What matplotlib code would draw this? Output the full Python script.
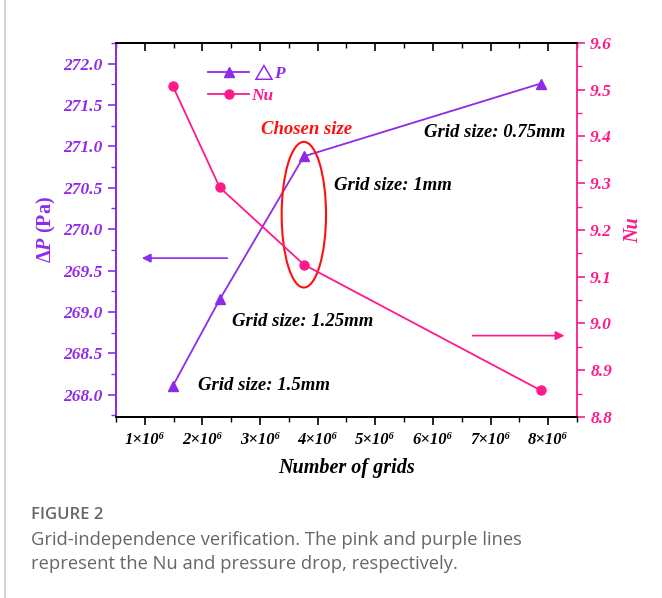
"""
Grid-independence check: pressure drop and Nusselt number vs. number of grids
"""
import matplotlib
matplotlib.use("Agg")
import matplotlib.pyplot as plt
from matplotlib import ticker
from matplotlib.lines import Line2D
from matplotlib.patches import Ellipse

plt.rcParams['font.family'] = ['Liberation Serif', 'DejaVu Serif']
plt.rcParams['mathtext.fontset'] = 'custom'
plt.rcParams['mathtext.rm'] = 'Liberation Serif:italic:bold'
plt.rcParams['mathtext.it'] = 'Liberation Serif:italic:bold'
plt.rcParams['mathtext.bf'] = 'Liberation Serif:bold'

PURPLE = '#8E2AEA'
PINK = '#FF1A8C'
RED = '#FF1010'
CAPTION = '#666666'

# data
n_grids = [1.49e6, 2.30e6, 3.76e6, 7.87e6]
delta_p = [268.11, 269.15, 270.88, 271.76]
nu = [9.507, 9.291, 9.126, 8.857]
grid_labels = ['Grid size: 1.5mm', 'Grid size: 1.25mm', 'Grid size: 1mm', 'Grid size: 0.75mm']
x_ticks = [1e6, 2e6, 3e6, 4e6, 5e6, 6e6, 7e6, 8e6]
x_labels = ['%d×10⁶' % round(v / 1e6) for v in x_ticks]
dp_ticks = [268.0, 268.5, 269.0, 269.5, 270.0, 270.5, 271.0, 271.5, 272.0]
nu_ticks = [8.8, 8.9, 9.0, 9.1, 9.2, 9.3, 9.4, 9.5, 9.6]

bi = dict(fontweight='bold', fontstyle='italic')

fig = plt.figure(figsize=(6.62, 5.98), dpi=100)
ax = fig.add_axes([0.1752, 0.3027, 0.6964, 0.6254])
ax2 = ax.twinx()

l1, = ax.plot(n_grids, delta_p, '-^', color=PURPLE, lw=1.3, ms=7.5, zorder=3)
l2, = ax2.plot(n_grids, nu, '-o', color=PINK, lw=1.3, ms=6.5, zorder=3)

ax.set_xlim(0.5e6, 8.5e6)
ax.set_ylim(267.73, 272.25)
ax2.set_ylim(8.8, 9.6)

ax.set_xticks(x_ticks, x_labels, fontsize=12, **bi)
ax.xaxis.set_minor_locator(ticker.MultipleLocator(0.5e6))
ax.set_yticks(dp_ticks, ['%.1f' % v for v in dp_ticks], fontsize=12.5, **bi)
ax.yaxis.set_minor_locator(ticker.MultipleLocator(0.25))
ax2.set_yticks(nu_ticks, ['%.1f' % v for v in nu_ticks], fontsize=12.5, **bi)
ax2.yaxis.set_minor_locator(ticker.MultipleLocator(0.05))

# spines and ticks
ax.spines['left'].set_color(PURPLE)
ax2.spines['left'].set_color(PURPLE)
ax2.spines['right'].set_color(PINK)
ax.spines['right'].set_visible(False)
for a in (ax, ax2):
    for s in a.spines.values():
        s.set_linewidth(1.3)

ax.tick_params(axis='x', which='major', direction='out', length=6, width=1.2, pad=5)
ax.tick_params(axis='x', which='minor', direction='out', length=3.5, width=1.0)
ax.tick_params(axis='y', which='major', direction='out', length=6, width=1.2, colors=PURPLE)
ax.tick_params(axis='y', which='minor', direction='out', length=3.5, width=1.0, colors=PURPLE)
ax2.tick_params(axis='y', which='major', direction='out', length=6, width=1.2, colors=PINK)
ax2.tick_params(axis='y', which='minor', direction='out', length=3.5, width=1.0, colors=PINK)

# inward ticks along the top spine
top = ax.secondary_xaxis('top')
top.set_xticks(x_ticks)
top.xaxis.set_minor_locator(ticker.MultipleLocator(0.5e6))
top.tick_params(which='major', direction='in', length=6, width=1.2, labeltop=False)
top.tick_params(which='minor', direction='in', length=3.5, width=1.0)
top.spines['top'].set_linewidth(1.3)

ax.set_xlabel('Number of grids', fontsize=14.5, labelpad=7, **bi)
ax.set_ylabel(r'$\mathbf{\Delta}P\ \mathbf{(Pa)}$', fontsize=14.5, color=PURPLE, labelpad=4)
ax2.set_ylabel('Nu', fontsize=14.5, color=PINK, labelpad=8, **bi)

# legend
leg = ax.legend([l1, l2], [r'$\mathbf{\triangle}\!P$', 'Nu'], loc='upper left',
                bbox_to_anchor=(0.165, 0.99), frameon=False, handlelength=2.4,
                handletextpad=0.1, labelspacing=0.3,
                prop=dict(family='Liberation Serif', size=12.5, weight='bold', style='italic'))
leg.get_texts()[0].set_color(PURPLE)
leg.get_texts()[1].set_color(PINK)

# grid size labels
ax.text(1.92e6, 268.11, grid_labels[0], fontsize=13.5, ha='left', va='center', **bi)
ax.text(3.74e6, 268.88, grid_labels[1], fontsize=13.5, ha='center', va='center', **bi)
ax.text(4.28e6, 270.53, grid_labels[2], fontsize=13.5, ha='left', va='center', **bi)
ax.text(7.08e6, 271.17, grid_labels[3], fontsize=13.5, ha='center', va='center', **bi)
ax.text(3.8e6, 271.2, 'Chosen size', fontsize=13.5, color=RED, ha='center', va='center', **bi)
ax.add_patch(Ellipse((3.76e6, 270.175), 0.77e6, 1.76, fill=False, ec=RED, lw=1.5, zorder=4))

# arrows pointing at each axis
ax.annotate('', xy=(0.9e6, 269.65), xytext=(2.48e6, 269.65),
            arrowprops=dict(arrowstyle='-|>', color=PURPLE, lw=1.2, mutation_scale=13))
ax2.annotate('', xy=(8.33e6, 8.974), xytext=(6.64e6, 8.974),
             arrowprops=dict(arrowstyle='-|>', color=PINK, lw=1.2, mutation_scale=13))

# caption
cap = dict(family='Open Sans', color=CAPTION, va='center')
fig.add_artist(Line2D([0.008, 0.008], [0, 1], color='#cccccc', lw=1.2))
fig.text(31 / 662, 1 - 515 / 598, 'FIGURE 2', fontsize=12, weight='semibold', **cap)
fig.text(31 / 662, 1 - 540 / 598, 'Grid-independence verification. The pink and purple lines',
         fontsize=13.2, **cap)
fig.text(31 / 662, 1 - 564 / 598, 'represent the Nu and pressure drop, respectively.',
         fontsize=13.2, **cap)

plt.savefig('out.png', dpi=100)
plt.close()
